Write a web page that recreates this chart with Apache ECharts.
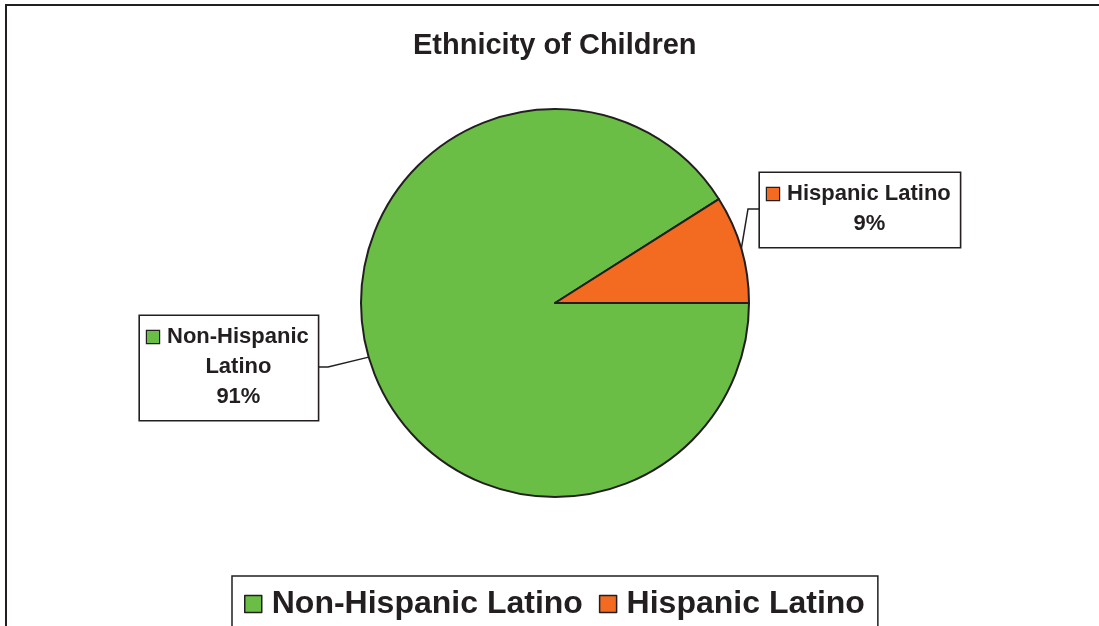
<!DOCTYPE html>
<html>
<head>
<meta charset="utf-8">
<script src="https://cdn.jsdelivr.net/npm/echarts@6/dist/echarts.min.js"></script>
<style>
html,body{margin:0;padding:0;background:#fff;}
#chart{width:1099px;height:626px;}
</style>
</head>
<body>
<div id="chart"></div>
<script>
const categories = ['Non-Hispanic Latino', 'Hispanic Latino'];
const values = [91, 9];
const colors = ['#6BBE45', '#F26B21'];
const labelNames = ['Non-Hispanic\nLatino', 'Hispanic Latino'];
const titleText = 'Ethnicity of Children';

const FONT = "'Liberation Sans', Arial, sans-serif";
const INK = '#231F20';

const chart = echarts.init(document.getElementById('chart'), null, {renderer: 'canvas'});

const rich = {
  t: {fontSize: 22, fontWeight: 'bold', fontFamily: FONT, color: INK, lineHeight: 30, align: 'center'},
  g: {width: 8, align: 'left'},
  s: {width: 21, align: 'left'}
};
colors.forEach(function (c, i) {
  rich['m' + i] = {width: 12, height: 12, backgroundColor: c, borderColor: INK, borderWidth: 1.2, align: 'left'};
});

const labelBoxes = [
  {x: 140, y: 316, elbow: [328, 367], end: [140 + 176, 367]},
  {x: 760, y: 173, elbow: [748, 209], end: [760, 209]}
];

const data = categories.map(function (name, i) {
  return {name: name, value: values[i], itemStyle: {color: colors[i]}};
});

chart.setOption({
  animation: false,
  backgroundColor: '#fff',
  graphic: [{
    type: 'rect',
    shape: {x: 6, y: 5, width: 1300, height: 900},
    style: {fill: 'none', stroke: INK, lineWidth: 2},
    silent: true,
    z: 100
  }],
  title: {
    text: titleText,
    left: 413,
    top: 31,
    padding: 0,
    textStyle: {fontSize: 29, fontWeight: 'bold', fontFamily: FONT, color: INK}
  },
  legend: {
    data: categories,
    left: 232,
    top: 576,
    orient: 'horizontal',
    padding: [12, 13, 12, 12],
    itemWidth: 17,
    itemHeight: 17,
    itemGap: 16,
    icon: 'rect',
    borderColor: INK,
    borderWidth: 1.5,
    backgroundColor: '#fff',
    itemStyle: {borderColor: INK, borderWidth: 1.5},
    textStyle: {fontSize: 32, fontWeight: 'bold', fontFamily: FONT, color: INK, padding: [0, 0, 0, 5]}
  },
  series: [{
    type: 'pie',
    center: [555, 303],
    radius: 194,
    startAngle: 0,
    clockwise: true,
    avoidLabelOverlap: false,
    itemStyle: {borderColor: INK, borderWidth: 2},
    emphasis: {disabled: true},
    label: {
      show: true,
      position: 'outside',
      backgroundColor: '#fff',
      borderColor: INK,
      borderWidth: 1.6,
      padding: [6, 9, 8, 7],
      formatter: function (p) {
        const lines = labelNames[p.dataIndex].split('\n');
        lines.push(p.value + '%');
        return lines.map(function (ln, k) {
          return k === 0 ? '{m' + p.dataIndex + '|}{g|}{t|' + ln + '}' : '{s|}{t|' + ln + '}';
        }).join('\n');
      },
      rich: rich
    },
    labelLine: {show: true, length: 20, length2: 10, lineStyle: {color: INK, width: 1.5}},
    labelLayout: function (params) {
      const b = labelBoxes[params.dataIndex];
      const p0 = params.labelLinePoints ? params.labelLinePoints[0] : b.elbow;
      return {
        x: b.x,
        y: b.y,
        align: 'left',
        verticalAlign: 'top',
        labelLinePoints: [p0, b.elbow, b.end]
      };
    },
    data: data
  }]
});
</script>
</body>
</html>
